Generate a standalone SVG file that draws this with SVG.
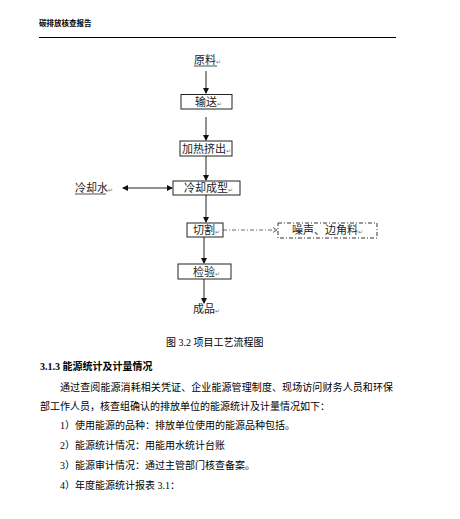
<svg xmlns="http://www.w3.org/2000/svg" width="460" height="519" viewBox="0 0 460 519">
<style>
.hd{font-family:"Liberation Serif","Noto Sans CJK SC",serif;font-size:7.5px;font-weight:bold;fill:#000}
.lb{font-family:"Noto Sans CJK SC",sans-serif;font-size:11px;fill:#222}
.rm{font-size:6px;fill:#777}
.bx{fill:#fff;stroke:#222;stroke-width:1}
.dbx{fill:#fff;stroke:#333;stroke-width:1;stroke-dasharray:4 2 1 2}
.ln{stroke:#222;stroke-width:1;fill:none}
.tx{font-family:"Liberation Serif","Noto Sans CJK SC",serif;font-size:10px;fill:#000}
.bd{font-weight:bold}
</style>
<defs>
<marker id="ah" markerWidth="6" markerHeight="6" refX="5" refY="3" orient="auto" markerUnits="userSpaceOnUse">
<path d="M0,0 L6,3 L0,6 Z" fill="#111"/>
</marker>
<marker id="ahs" markerWidth="6" markerHeight="6" refX="1" refY="3" orient="auto" markerUnits="userSpaceOnUse">
<path d="M6,0 L0,3 L6,6 Z" fill="#111"/>
</marker>
<marker id="oa" markerWidth="6" markerHeight="6" refX="5" refY="3" orient="auto" markerUnits="userSpaceOnUse">
<path d="M1,0.5 L5,3 L1,5.5" fill="none" stroke="#444" stroke-width="0.8"/>
</marker>
</defs>
<rect width="460" height="519" fill="#fff"/>
<g id="header">
<text class="hd" x="39" y="26">碳排放核查报告</text>
<line x1="39" y1="37.5" x2="396" y2="37.5" stroke="#000" stroke-width="1"/>
</g>
<g id="connectors">
<line class="ln" x1="206" y1="71" x2="206" y2="93" marker-end="url(#ah)"/>
<line class="ln" x1="206" y1="117" x2="206" y2="140" marker-end="url(#ah)"/>
<line class="ln" x1="206" y1="156" x2="206" y2="180" marker-end="url(#ah)"/>
<line class="ln" x1="123" y1="188" x2="172" y2="188" marker-start="url(#ahs)" marker-end="url(#ah)"/>
<line class="ln" x1="206" y1="195" x2="206" y2="222" marker-end="url(#ah)"/>
<line x1="223" y1="230" x2="277" y2="230" stroke="#444" stroke-width="0.8" stroke-dasharray="4 2 1 2" marker-end="url(#oa)"/>
<line class="ln" x1="204" y1="237" x2="204" y2="263" marker-end="url(#ah)"/>
<line class="ln" x1="204" y1="279" x2="204" y2="303" marker-end="url(#ah)"/>
</g>
<g id="n-yuanliao">
<text class="lb" x="194" y="64">原料<tspan class="rm">↵</tspan></text>
<line x1="194" y1="66" x2="217" y2="66" stroke="#222" stroke-width="0.8"/>
</g>
<g id="n-shusong">
<rect class="bx" x="181" y="94.5" width="51" height="14.5"/>
<text class="lb" x="195" y="106">输送<tspan class="rm">↵</tspan></text>
</g>
<g id="n-jiare">
<rect class="bx" x="180" y="141" width="52" height="15"/>
<text class="lb" x="182" y="153">加热挤出<tspan class="rm">↵</tspan></text>
</g>
<g id="n-lengqueshui">
<text class="lb" x="75" y="192">冷却水<tspan class="rm">↵</tspan></text>
<line x1="75" y1="194" x2="106" y2="194" stroke="#222" stroke-width="0.8"/>
</g>
<g id="n-lengque">
<rect class="bx" x="173" y="181" width="67" height="14"/>
<text class="lb" x="184" y="192">冷却成型<tspan class="rm">↵</tspan></text>
</g>
<g id="n-qiege">
<rect class="bx" x="187" y="223" width="36" height="14"/>
<text class="lb" x="193" y="234">切割<tspan class="rm">↵</tspan></text>
</g>
<g id="n-zaosheng">
<rect class="dbx" x="278" y="223" width="99" height="15"/>
<text class="lb" x="292" y="234">噪声、边角料<tspan class="rm">↵</tspan></text>
</g>
<g id="n-jianyan">
<rect class="bx" x="178" y="264" width="53" height="15"/>
<text class="lb" x="193" y="276">检验<tspan class="rm">↵</tspan></text>
</g>
<g id="n-chengpin">
<text class="lb" x="193" y="313">成品<tspan class="rm">↵</tspan></text>
</g>
<g id="caption">
<text class="tx" x="166" y="346">图 3.2  项目工艺流程图</text>
</g>
<g id="body">
<text class="tx bd" x="40" y="370">3.1.3  能源统计及计量情况</text>
<text class="tx" x="60" y="391" textLength="333" lengthAdjust="spacing">通过查阅能源消耗相关凭证、企业能源管理制度、现场访问财务人员和环保</text>
<text class="tx" x="40" y="410" textLength="290" lengthAdjust="spacing">部工作人员，核查组确认的排放单位的能源统计及计量情况如下：</text>
<text class="tx" x="60" y="429">1）使用能源的品种：排放单位使用的能源品种包括。</text>
<text class="tx" x="60" y="449">2）能源统计情况：用能用水统计台账</text>
<text class="tx" x="60" y="469">3）能源审计情况：通过主管部门核查备案。</text>
<text class="tx" x="60" y="489">4）年度能源统计报表 3.1：</text>
</g>
</svg>
